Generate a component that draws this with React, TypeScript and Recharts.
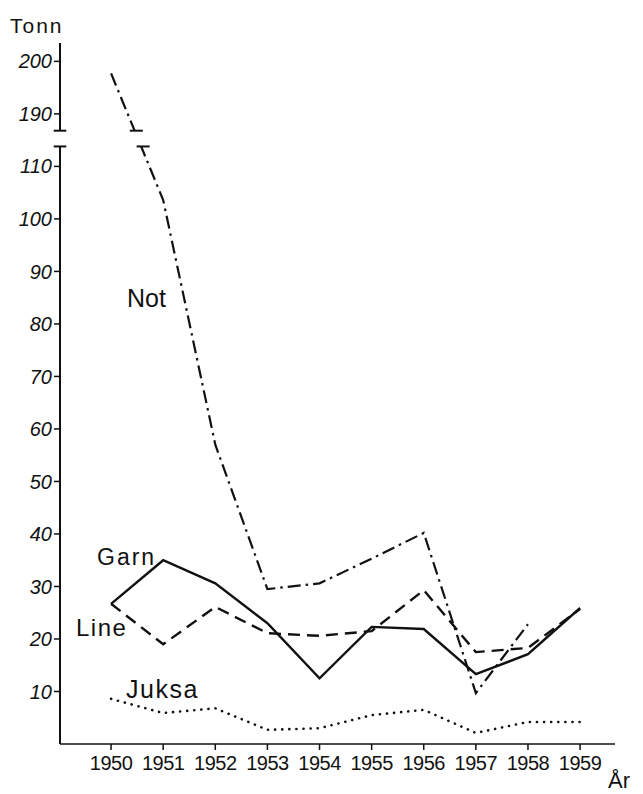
import React from 'react';
import { LineChart, Line, XAxis, YAxis, ReferenceLine, ReferenceArea } from 'recharts';

// catch per gear, tonnes
const years = [1950, 1951, 1952, 1953, 1954, 1955, 1956, 1957, 1958, 1959];
const garn = [26.7, 35, 30.6, 23, 12.5, 22.3, 21.9, 13.3, 17.1, 25.9];
const line = [26.7, 19, 26.1, 21.1, 20.6, 21.5, 29.3, 17.5, 18.3, 25.7];
const not = [197.7, 103.6, 57, 29.5, 30.6, 35.3, 40.2, 9.7, 22.8, null];
const juksa = [8.6, 5.9, 6.8, 2.7, 3, 5.5, 6.5, 2.1, 4.2, 4.2];

const yTicks = [10, 20, 30, 40, 50, 60, 70, 80, 90, 100, 110, 190, 200];

// broken y axis: everything above the break is shifted down by BREAK_SHIFT
const BREAK_SHIFT = 70;
const LOW_TOP = 113.8;
const HIGH_BOTTOM = 186.8;
const HIGH_TOP = 203.5;
const toAxis = (v: number | null) => (v == null ? null : v > 150 ? v - BREAK_SHIFT : v);
const fromAxis = (v: number) => (v > 115 ? v + BREAK_SHIFT : v);

const X_MIN = 1949.02;
const X_MAX = 1959.67;

const data = years.map((year, i) => ({
  year,
  garn: garn[i],
  line: line[i],
  not: toAxis(not[i]),
  juksa: juksa[i],
}));

const FONT = '"Liberation Sans", Arial, sans-serif';
const INK = '#111';

export default function App() {
  const hi = toAxis(HIGH_TOP) as number;
  const hiBottom = toAxis(HIGH_BOTTOM) as number;
  return (
    <div style={{ position: 'absolute', left: 0, top: 0, width: 643, height: 794, background: '#fff' }}>
      <LineChart width={643} height={794} data={data} margin={{ top: 43, right: 28, bottom: 10, left: 0 }}>
        <XAxis
          dataKey="year"
          type="number"
          domain={[X_MIN, X_MAX]}
          ticks={years}
          height={40}
          tickSize={6}
          tickMargin={6}
          stroke={INK}
          strokeWidth={1.5}
          tick={{ fill: INK, fontSize: 20, fontFamily: FONT, letterSpacing: -0.5 }}
        />
        <YAxis
          type="number"
          domain={[0, hi]}
          ticks={yTicks.map(t => toAxis(t) as number)}
          tickFormatter={(v: number) => String(Math.round(fromAxis(v)))}
          width={60}
          axisLine={false}
          tickSize={6}
          tickMargin={2}
          stroke={INK}
          tick={{ fill: INK, fontSize: 20, fontFamily: FONT, fontStyle: 'italic' }}
          tickLine={{ stroke: INK, strokeWidth: 1.5 }}
        />
        {/* y axis pieces with caps at the break */}
        <ReferenceLine segment={[{ x: X_MIN, y: 0 }, { x: X_MIN, y: LOW_TOP }]} stroke={INK} strokeWidth={2} ifOverflow="visible" />
        <ReferenceLine segment={[{ x: X_MIN, y: hiBottom }, { x: X_MIN, y: hi }]} stroke={INK} strokeWidth={2} ifOverflow="visible" />
        <ReferenceLine segment={[{ x: X_MIN - 0.12, y: LOW_TOP }, { x: X_MIN + 0.12, y: LOW_TOP }]} stroke={INK} strokeWidth={2} ifOverflow="visible" />
        <ReferenceLine segment={[{ x: X_MIN - 0.12, y: hiBottom }, { x: X_MIN + 0.12, y: hiBottom }]} stroke={INK} strokeWidth={2} ifOverflow="visible" />

        <Line dataKey="juksa" stroke={INK} strokeWidth={2.6} strokeDasharray="0.1 7" strokeLinecap="round" dot={false} isAnimationActive={false} type="linear" />
        <Line dataKey="line" stroke={INK} strokeWidth={2.4} strokeDasharray="12 7" dot={false} isAnimationActive={false} type="linear" />
        <Line dataKey="garn" stroke={INK} strokeWidth={2.4} dot={false} isAnimationActive={false} type="linear" />
        <Line dataKey="not" stroke={INK} strokeWidth={2.2} strokeDasharray="13 5 2.5 5" dot={false} connectNulls={false} isAnimationActive={false} type="linear" />

        {/* gap in the Not line at the axis break */}
        <ReferenceArea x1={1950.2} x2={1950.9} y1={LOW_TOP} y2={hiBottom} fill="#fff" fillOpacity={1} stroke="none" ifOverflow="visible" zIndex={900} />
        <ReferenceLine segment={[{ x: 1950.36, y: hiBottom }, { x: 1950.61, y: hiBottom }]} stroke={INK} strokeWidth={2} ifOverflow="visible" zIndex={950} />
        <ReferenceLine segment={[{ x: 1950.49, y: LOW_TOP }, { x: 1950.74, y: LOW_TOP }]} stroke={INK} strokeWidth={2} ifOverflow="visible" zIndex={950} />
      </LineChart>
      <svg width={643} height={794} style={{ position: 'absolute', left: 0, top: 0, pointerEvents: 'none' }}>
        <g fill={INK} fontFamily={FONT}>
          <text x={10} y={33} fontSize={21} letterSpacing={2}>Tonn</text>
          <text x={127} y={307} fontSize={25}>Not</text>
          <text x={97} y={565} fontSize={23} letterSpacing={2}>Garn</text>
          <text x={76} y={636} fontSize={24} letterSpacing={1.5}>Line</text>
          <text x={126} y={698} fontSize={25} letterSpacing={1.5}>Juksa</text>
          <text x={608} y={788} fontSize={22}>År</text>
        </g>
      </svg>
    </div>
  );
}
